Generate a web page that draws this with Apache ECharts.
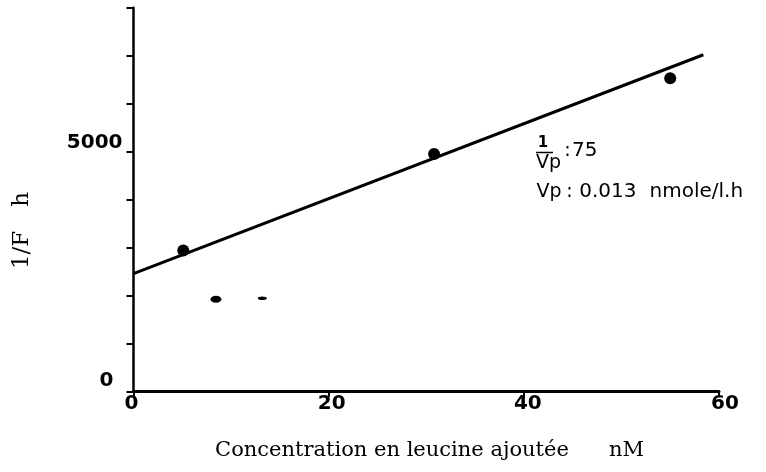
<!DOCTYPE html>
<html>
<head>
<meta charset="utf-8">
<script src="https://cdn.jsdelivr.net/npm/echarts@6/dist/echarts.min.js"></script>
<style>
  html, body { margin: 0; padding: 0; background: #ffffff; }
  #chart { width: 766px; height: 472px; }
</style>
</head>
<body>
<div id="chart"></div>
<script>
// ---- data ----
const xTickValues = [0, 20, 40, 60];
const yLabelledTicks = [0, 5000];
const pointX = [5.1, 30.8, 55.0];
const pointY = [2940, 4950, 6530];
const fitX = [0, 58.4];
const fitY = [2460, 7020];
const speckX = [8.45, 13.2];
const speckY = [1925, 1945];
const xAxisTitle = 'Concentration en leucine ajoutée';
const xAxisUnit = 'nM';
const yAxisTitle = '1/F';
const yAxisUnit = 'h';

const points = pointX.map((x, i) => [x, pointY[i]]);
const fitLine = fitX.map((x, i) => [x, fitY[i]]);
const specks = speckX.map((x, i) => [x, speckY[i]]);

const tickFont = 'DejaVu Sans';
const xShift = { 0: [0, 4, 0, 0], 20: [0, 0, 0, 6], 40: [0, 0, 0, 8], 60: [0, 0, 0, 12] };
const xRich = {};
xTickValues.forEach(v => {
  xRich['t' + v] = { fontFamily: tickFont, fontWeight: 'bold', fontSize: 20, color: '#000', padding: xShift[v] };
});

const chart = echarts.init(document.getElementById('chart'), null, { renderer: 'canvas' });
chart.setOption({
  backgroundColor: '#ffffff',
  animation: false,
  grid: { left: 133.5, right: 47, top: 7.7, bottom: 80.3, containLabel: false },
  xAxis: {
    type: 'value', min: 0, max: 60, interval: 20,
    axisLine: { show: true, onZero: false, lineStyle: { color: '#000', width: 3 } },
    axisTick: { show: true, inside: false, length: 5, lineStyle: { color: '#000', width: 2 } },
    splitLine: { show: false },
    axisLabel: {
      margin: 2,
      formatter: v => xTickValues.indexOf(v) >= 0 ? '{t' + v + '|' + v + '}' : '',
      rich: xRich
    }
  },
  yAxis: {
    type: 'value', min: 0, max: 8000, interval: 1000,
    axisLine: { show: true, onZero: false, lineStyle: { color: '#000', width: 2.5 } },
    axisTick: { show: true, inside: false, length: 7, lineStyle: { color: '#000', width: 2 } },
    splitLine: { show: false },
    axisLabel: {
      margin: 11,
      formatter: v => {
        if (yLabelledTicks.indexOf(v) < 0) return '';
        return v === 0 ? '{z|' + v + '}' : '{f|' + v + '}';
      },
      rich: {
        z: { fontFamily: tickFont, fontWeight: 'bold', fontSize: 20, color: '#000', padding: [0, 9, 22, 0] },
        f: { fontFamily: tickFont, fontWeight: 'bold', fontSize: 20, color: '#000', padding: [0, 0, 18, 0] }
      }
    }
  },
  series: [
    {
      name: 'fit', type: 'line', data: fitLine, symbol: 'none',
      lineStyle: { color: '#000', width: 3 }, z: 3, silent: true
    },
    {
      name: 'points', type: 'scatter', data: points, symbol: 'circle', symbolSize: 12,
      itemStyle: { color: '#000', opacity: 1 }, z: 4
    },
    {
      name: 'specks', type: 'scatter', data: specks,
      symbol: 'path://M0,5a5,5 0 1,0 10,0a5,5 0 1,0 -10,0',
      symbolKeepAspect: false,
      symbolSize: (val, p) => p.dataIndex === 0 ? [11, 7] : [9, 3.5],
      itemStyle: { color: '#000', opacity: 1 }, z: 4
    }
  ],
  graphic: [
    {
      type: 'text', x: 429.5, y: 451,
      style: {
        text: '{a|' + xAxisTitle + '}{b|' + xAxisUnit + '}',
        align: 'center', verticalAlign: 'middle', textAlign: 'center', textVerticalAlign: 'middle',
        rich: {
          a: { fontFamily: 'DejaVu Serif', fontSize: 21, fill: '#000', color: '#000' },
          b: { fontFamily: 'DejaVu Serif', fontSize: 21, fill: '#000', color: '#000', padding: [0, 0, 0, 40] }
        }
      }
    },
    {
      type: 'text', x: 21.7, y: 230.5, rotation: Math.PI / 2,
      style: {
        text: '{a|' + yAxisTitle + '}{b|' + yAxisUnit + '}',
        align: 'center', verticalAlign: 'middle', textAlign: 'center', textVerticalAlign: 'middle',
        rich: {
          a: { fontFamily: 'DejaVu Serif', fontSize: 23, fill: '#000', color: '#000' },
          b: { fontFamily: 'DejaVu Serif', fontSize: 23, fill: '#000', color: '#000', padding: [0, 0, 0, 24] }
        }
      }
    },
    // fraction 1/Vp : 75
    {
      type: 'text', x: 543, y: 143,
      style: { text: '1', font: 'bold 15px "DejaVu Sans"', fill: '#000', align: 'center', verticalAlign: 'middle', textAlign: 'center', textVerticalAlign: 'middle' }
    },
    {
      type: 'line', shape: { x1: 536, y1: 152.5, x2: 553, y2: 152.5 },
      style: { stroke: '#000', lineWidth: 1.5 }
    },
    {
      type: 'text', x: 536, y: 163,
      style: { text: 'Vp', font: '19px "DejaVu Sans"', fill: '#000', align: 'left', verticalAlign: 'middle', textAlign: 'left', textVerticalAlign: 'middle' }
    },
    {
      type: 'text', x: 563, y: 151,
      style: {
        text: '{b|:}{c|75}',
        align: 'left', verticalAlign: 'middle', textAlign: 'left', textVerticalAlign: 'middle',
        rich: {
          b: { fontFamily: 'DejaVu Sans', fontSize: 19, fill: '#000', color: '#000', width: 9, align: 'center' },
          c: { fontFamily: 'DejaVu Sans', fontSize: 20, fill: '#000', color: '#000' }
        }
      }
    },
    {
      type: 'text', x: 536.5, y: 192,
      style: {
        text: '{a|Vp }{b|:}{c|0.013 }{d|nmole/l.h}',
        align: 'left', verticalAlign: 'middle', textAlign: 'left', textVerticalAlign: 'middle',
        rich: {
          a: { fontFamily: 'DejaVu Sans', fontSize: 19, fill: '#000', color: '#000', width: 30, align: 'left' },
          b: { fontFamily: 'DejaVu Sans', fontSize: 19, fill: '#000', color: '#000', width: 6, align: 'center' },
          c: { fontFamily: 'DejaVu Sans', fontSize: 20, fill: '#000', color: '#000', width: 77, align: 'left' },
          d: { fontFamily: 'DejaVu Sans', fontSize: 20, fill: '#000', color: '#000' }
        }
      }
    }
  ]
});
</script>
</body>
</html>
